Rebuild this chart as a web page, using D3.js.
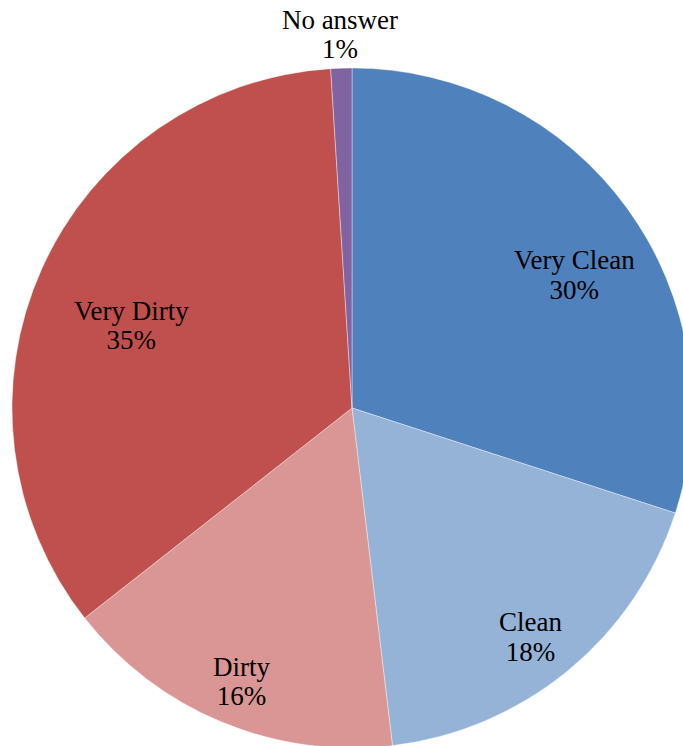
<!DOCTYPE html>
<html>
<head>
<meta charset="utf-8">
<script src="https://cdn.jsdelivr.net/npm/d3@7"></script>
<style>
  html, body { margin: 0; padding: 0; background: #ffffff; overflow: hidden; }
  svg { display: block; }
</style>
</head>
<body>
<svg id="chart" width="683" height="746"></svg>
<script>
// ---- data ----
const categories = ["Very Clean", "Clean", "Dirty", "Very Dirty", "No answer"];
const values = [30.0, 18.1, 16.3, 34.6, 1.0];
const percentLabels = ["30%", "18%", "16%", "35%", "1%"];
const colors = ["#4F81BD", "#95B3D7", "#D99694", "#C0504D", "#8064A2"];

// ---- layout ----
const width = 683, height = 746;
const cx = 352, cy = 408, R = 340;
const labelOffsets = [[16, 11], [16.5, 26.5], [-13, 32], [12, 16], [-4, -124.6]];
const lineGap = 29.5;

const svg = d3.select("#chart");
const g = svg.append("g").attr("transform", `translate(${cx},${cy})`);

const pie = d3.pie().sort(null).value(d => d.value);
const rows = categories.map((c, i) => ({ name: c, value: values[i], label: percentLabels[i], color: colors[i], i }));
const arcs = pie(rows);

const arc = d3.arc().innerRadius(0).outerRadius(R);
const labelArc = d3.arc().innerRadius(R * 0.75).outerRadius(R * 0.75);

g.selectAll("path.slice")
  .data(arcs)
  .enter().append("path")
  .attr("class", "slice")
  .attr("d", arc)
  .attr("fill", d => d.data.color)
  .attr("stroke", "#ffffff")
  .attr("stroke-opacity", 0.5)
  .attr("stroke-width", 0.75);

const labels = g.selectAll("text.lbl")
  .data(arcs)
  .enter().append("text")
  .attr("class", "lbl")
  .attr("text-anchor", "middle")
  .style("font-family", "'Liberation Serif', 'Times New Roman', serif")
  .style("font-size", "27px")
  .attr("fill", "#000000")
  .attr("transform", d => {
    const c = labelArc.centroid(d);
    const o = labelOffsets[d.data.i];
    return `translate(${c[0] + o[0]},${c[1] + o[1]})`;
  });

labels.append("tspan").attr("x", 0).attr("y", 0).text(d => d.data.name);
labels.append("tspan").attr("x", 0).attr("y", lineGap).text(d => d.data.label);
</script>
</body>
</html>
